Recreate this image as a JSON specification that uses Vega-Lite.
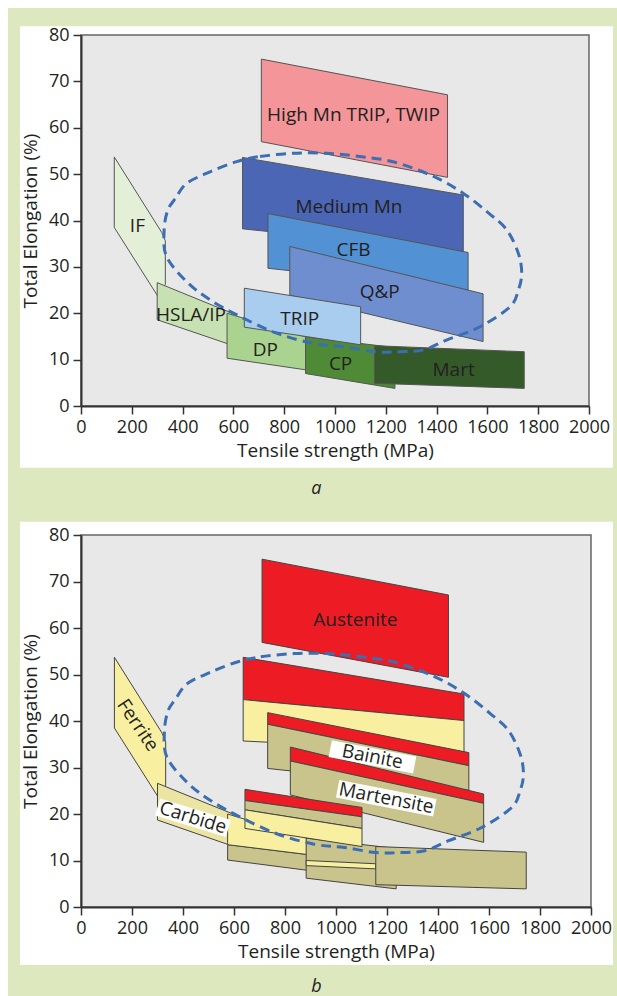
{
  "$schema": "https://vega.github.io/schema/vega-lite/v6.json",
  "background": "white",
  "padding": {"left": 8, "top": 8, "right": 0, "bottom": 0},
  "autosize": {"type": "pad"},
  "bounds": "flush",
  "spacing": 129,
  "resolve": {"scale": {"x": "independent", "y": "independent", "fill": "independent"}},
  "config": {
    "view": {"stroke": null},
    "font": "Open Sans",
    "axis": {"domainColor": "#333333", "domainWidth": 2, "tickColor": "#333333", "tickWidth": 1.5, "tickSize": 8, "labelFont": "Open Sans", "labelFontSize": 18, "labelColor": "#231f20", "labelPadding": 4, "titleFont": "Open Sans", "titleFontSize": 19, "titleFontWeight": "normal", "titleColor": "#231f20", "grid": false, "labelFlush": false, "labelOverlap": false, "format": "d"},
    "axisX": {"titlePadding": 5},
    "axisY": {"titlePadding": 8}
  },
  "datasets": {
    "one": [{"k": 1}],
    "polyA": [
      {"id": "High Mn TRIP, TWIP", "i": 0, "x": 710, "y": 74.8}, {"id": "High Mn TRIP, TWIP", "i": 1, "x": 1443, "y": 67.1}, {"id": "High Mn TRIP, TWIP", "i": 2, "x": 1443, "y": 49.3}, {"id": "High Mn TRIP, TWIP", "i": 3, "x": 710, "y": 57.0},
      {"id": "IF", "i": 0, "x": 131, "y": 53.7}, {"id": "IF", "i": 1, "x": 318, "y": 37.4}, {"id": "IF", "i": 2, "x": 332, "y": 35.6}, {"id": "IF", "i": 3, "x": 332, "y": 26.2}, {"id": "IF", "i": 4, "x": 302, "y": 23.7}, {"id": "IF", "i": 5, "x": 131, "y": 38.5},
      {"id": "HSLA/IP", "i": 0, "x": 300, "y": 26.6}, {"id": "HSLA/IP", "i": 1, "x": 600, "y": 19.9}, {"id": "HSLA/IP", "i": 2, "x": 600, "y": 13.0}, {"id": "HSLA/IP", "i": 3, "x": 300, "y": 18.6},
      {"id": "DP", "i": 0, "x": 575, "y": 20.0}, {"id": "DP", "i": 1, "x": 884, "y": 14.9}, {"id": "DP", "i": 2, "x": 884, "y": 7.8}, {"id": "DP", "i": 3, "x": 575, "y": 10.3},
      {"id": "CP", "i": 0, "x": 884, "y": 14.9}, {"id": "CP", "i": 1, "x": 1236, "y": 12.6}, {"id": "CP", "i": 2, "x": 1236, "y": 3.8}, {"id": "CP", "i": 3, "x": 884, "y": 7.0},
      {"id": "Mart", "i": 0, "x": 1156, "y": 13.0}, {"id": "Mart", "i": 1, "x": 1745, "y": 11.7}, {"id": "Mart", "i": 2, "x": 1745, "y": 3.8}, {"id": "Mart", "i": 3, "x": 1156, "y": 4.9},
      {"id": "Medium Mn", "i": 0, "x": 636, "y": 53.6}, {"id": "Medium Mn", "i": 1, "x": 1505, "y": 45.5}, {"id": "Medium Mn", "i": 2, "x": 1505, "y": 33.3}, {"id": "Medium Mn", "i": 3, "x": 636, "y": 38.2},
      {"id": "CFB", "i": 0, "x": 736, "y": 41.5}, {"id": "CFB", "i": 1, "x": 1524, "y": 33.1}, {"id": "CFB", "i": 2, "x": 1524, "y": 25.0}, {"id": "CFB", "i": 3, "x": 736, "y": 29.7},
      {"id": "Q&P", "i": 0, "x": 822, "y": 34.4}, {"id": "Q&P", "i": 1, "x": 1583, "y": 24.2}, {"id": "Q&P", "i": 2, "x": 1583, "y": 13.9}, {"id": "Q&P", "i": 3, "x": 822, "y": 23.9},
      {"id": "TRIP", "i": 0, "x": 643, "y": 25.4}, {"id": "TRIP", "i": 1, "x": 1101, "y": 21.4}, {"id": "TRIP", "i": 2, "x": 1101, "y": 13.2}, {"id": "TRIP", "i": 3, "x": 643, "y": 17.0}
    ],
    "polyB": [
      {"id": "A1", "phase": "Austenite", "i": 0, "x": 710, "y": 74.8}, {"id": "A1", "phase": "Austenite", "i": 1, "x": 1441, "y": 67.1}, {"id": "A1", "phase": "Austenite", "i": 2, "x": 1441, "y": 49.4}, {"id": "A1", "phase": "Austenite", "i": 3, "x": 710, "y": 56.9},
      {"id": "F1", "phase": "Ferrite", "i": 0, "x": 131, "y": 53.7}, {"id": "F1", "phase": "Ferrite", "i": 1, "x": 318, "y": 37.4}, {"id": "F1", "phase": "Ferrite", "i": 2, "x": 332, "y": 35.6}, {"id": "F1", "phase": "Ferrite", "i": 3, "x": 332, "y": 26.2}, {"id": "F1", "phase": "Ferrite", "i": 4, "x": 302, "y": 23.7}, {"id": "F1", "phase": "Ferrite", "i": 5, "x": 131, "y": 38.5},
      {"id": "C1", "phase": "Ferrite+Carbide", "i": 0, "x": 300, "y": 26.6}, {"id": "C1", "phase": "Ferrite+Carbide", "i": 1, "x": 605, "y": 19.8}, {"id": "C1", "phase": "Ferrite+Carbide", "i": 2, "x": 600, "y": 13.0}, {"id": "C1", "phase": "Ferrite+Carbide", "i": 3, "x": 300, "y": 18.7},
      {"id": "DPh", "phase": "Bainite/Martensite", "i": 0, "x": 575, "y": 13.4}, {"id": "DPh", "phase": "Bainite/Martensite", "i": 1, "x": 886, "y": 11.3}, {"id": "DPh", "phase": "Bainite/Martensite", "i": 2, "x": 886, "y": 7.9}, {"id": "DPh", "phase": "Bainite/Martensite", "i": 3, "x": 575, "y": 10.1},
      {"id": "DPy", "phase": "Ferrite", "i": 0, "x": 575, "y": 20.0}, {"id": "DPy", "phase": "Ferrite", "i": 1, "x": 886, "y": 14.8}, {"id": "DPy", "phase": "Ferrite", "i": 2, "x": 886, "y": 11.3}, {"id": "DPy", "phase": "Ferrite", "i": 3, "x": 575, "y": 13.4},
      {"id": "CPh", "phase": "Bainite/Martensite", "i": 0, "x": 883, "y": 14.8}, {"id": "CPh", "phase": "Bainite/Martensite", "i": 1, "x": 1236, "y": 12.6}, {"id": "CPh", "phase": "Bainite/Martensite", "i": 2, "x": 1236, "y": 3.9}, {"id": "CPh", "phase": "Bainite/Martensite", "i": 3, "x": 883, "y": 6.2},
      {"id": "CPy", "phase": "Ferrite", "i": 0, "x": 883, "y": 10.0}, {"id": "CPy", "phase": "Ferrite", "i": 1, "x": 1156, "y": 9.3}, {"id": "CPy", "phase": "Ferrite", "i": 2, "x": 1156, "y": 8.2}, {"id": "CPy", "phase": "Ferrite", "i": 3, "x": 883, "y": 8.9},
      {"id": "Marth", "phase": "Bainite/Martensite", "i": 0, "x": 1156, "y": 13.0}, {"id": "Marth", "phase": "Bainite/Martensite", "i": 1, "x": 1746, "y": 11.8}, {"id": "Marth", "phase": "Bainite/Martensite", "i": 2, "x": 1746, "y": 3.9}, {"id": "Marth", "phase": "Bainite/Martensite", "i": 3, "x": 1156, "y": 4.8},
      {"id": "MMr", "phase": "Austenite", "i": 0, "x": 636, "y": 53.7}, {"id": "MMr", "phase": "Austenite", "i": 1, "x": 1502, "y": 45.8}, {"id": "MMr", "phase": "Austenite", "i": 2, "x": 1502, "y": 40.1}, {"id": "MMr", "phase": "Austenite", "i": 3, "x": 636, "y": 44.6},
      {"id": "MMy", "phase": "Ferrite", "i": 0, "x": 636, "y": 44.6}, {"id": "MMy", "phase": "Ferrite", "i": 1, "x": 1502, "y": 40.1}, {"id": "MMy", "phase": "Ferrite", "i": 2, "x": 1502, "y": 33.4}, {"id": "MMy", "phase": "Ferrite", "i": 3, "x": 636, "y": 35.7},
      {"id": "CFBr", "phase": "Austenite", "i": 0, "x": 732, "y": 41.8}, {"id": "CFBr", "phase": "Austenite", "i": 1, "x": 1521, "y": 33.2}, {"id": "CFBr", "phase": "Austenite", "i": 2, "x": 1521, "y": 30.4}, {"id": "CFBr", "phase": "Austenite", "i": 3, "x": 732, "y": 39.3},
      {"id": "CFBh", "phase": "Bainite/Martensite", "i": 0, "x": 732, "y": 39.3}, {"id": "CFBh", "phase": "Bainite/Martensite", "i": 1, "x": 1521, "y": 30.4}, {"id": "CFBh", "phase": "Bainite/Martensite", "i": 2, "x": 1521, "y": 25.1}, {"id": "CFBh", "phase": "Bainite/Martensite", "i": 3, "x": 732, "y": 29.8},
      {"id": "QPr", "phase": "Austenite", "i": 0, "x": 821, "y": 34.4}, {"id": "QPr", "phase": "Austenite", "i": 1, "x": 1579, "y": 24.3}, {"id": "QPr", "phase": "Austenite", "i": 2, "x": 1579, "y": 22.3}, {"id": "QPr", "phase": "Austenite", "i": 3, "x": 821, "y": 31.4},
      {"id": "QPh", "phase": "Bainite/Martensite", "i": 0, "x": 821, "y": 31.4}, {"id": "QPh", "phase": "Bainite/Martensite", "i": 1, "x": 1579, "y": 22.3}, {"id": "QPh", "phase": "Bainite/Martensite", "i": 2, "x": 1579, "y": 13.9}, {"id": "QPh", "phase": "Bainite/Martensite", "i": 3, "x": 821, "y": 24.1},
      {"id": "TRr", "phase": "Austenite", "i": 0, "x": 643, "y": 25.3}, {"id": "TRr", "phase": "Austenite", "i": 1, "x": 1102, "y": 21.4}, {"id": "TRr", "phase": "Austenite", "i": 2, "x": 1102, "y": 19.4}, {"id": "TRr", "phase": "Austenite", "i": 3, "x": 643, "y": 22.9},
      {"id": "TRh", "phase": "Bainite/Martensite", "i": 0, "x": 643, "y": 22.9}, {"id": "TRh", "phase": "Bainite/Martensite", "i": 1, "x": 1102, "y": 19.4}, {"id": "TRh", "phase": "Bainite/Martensite", "i": 2, "x": 1102, "y": 16.9}, {"id": "TRh", "phase": "Bainite/Martensite", "i": 3, "x": 643, "y": 20.9},
      {"id": "TRy", "phase": "Ferrite", "i": 0, "x": 643, "y": 20.9}, {"id": "TRy", "phase": "Ferrite", "i": 1, "x": 1102, "y": 16.9}, {"id": "TRy", "phase": "Ferrite", "i": 2, "x": 1102, "y": 13.0}, {"id": "TRy", "phase": "Ferrite", "i": 3, "x": 643, "y": 16.9}
    ],
    "ellipse": [
      {"i": 0, "x": 613, "y": 52.7}, {"i": 1, "x": 705, "y": 53.8}, {"i": 2, "x": 836, "y": 54.5}, {"i": 3, "x": 967, "y": 54.5}, {"i": 4, "x": 1098, "y": 53.8}, {"i": 5, "x": 1233, "y": 52.6}, {"i": 6, "x": 1388, "y": 49.5}, {"i": 7, "x": 1504, "y": 45.9}, {"i": 8, "x": 1605, "y": 41.6}, {"i": 9, "x": 1676, "y": 38.0}, {"i": 10, "x": 1722, "y": 32.9}, {"i": 11, "x": 1735, "y": 28.6}, {"i": 12, "x": 1722, "y": 25.0}, {"i": 13, "x": 1689, "y": 21.4}, {"i": 14, "x": 1571, "y": 17.1}, {"i": 15, "x": 1439, "y": 14.2}, {"i": 16, "x": 1348, "y": 12.1}, {"i": 17, "x": 1256, "y": 11.7}, {"i": 18, "x": 1157, "y": 11.7}, {"i": 19, "x": 1033, "y": 12.8}, {"i": 20, "x": 915, "y": 13.5}, {"i": 21, "x": 770, "y": 15.7}, {"i": 22, "x": 626, "y": 19.3}, {"i": 23, "x": 508, "y": 22.9}, {"i": 24, "x": 416, "y": 26.8}, {"i": 25, "x": 337, "y": 32.2}, {"i": 26, "x": 327, "y": 37.5}, {"i": 27, "x": 340, "y": 42.0}, {"i": 28, "x": 372, "y": 44.8}, {"i": 29, "x": 416, "y": 48.0}, {"i": 30, "x": 508, "y": 50.5}
    ],
    "labelsA": [
      {"label": "High Mn TRIP, TWIP", "x": 1073, "y": 62.7}, {"label": "Medium Mn", "x": 1055, "y": 43.0}, {"label": "CFB", "x": 1073, "y": 33.6}, {"label": "Q&P", "x": 1176, "y": 24.5}, {"label": "TRIP", "x": 861, "y": 18.8}, {"label": "IF", "x": 222, "y": 38.9}, {"label": "HSLA/IP", "x": 433, "y": 19.7}, {"label": "DP", "x": 726, "y": 12.1}, {"label": "CP", "x": 1022, "y": 9.1}, {"label": "Mart", "x": 1467, "y": 7.8}
    ]
  },
  "vconcat": [
    {
      "width": 508,
      "height": 371,
      "layer": [
        {"data": {"name": "one"}, "mark": {"type": "rect", "fill": "#dde8bf"}, "encoding": {"x": {"datum": -287.4, "type": "quantitative", "scale": {"domain": [0, 2000], "nice": false, "zero": false}}, "x2": {"datum": 2110.2}, "y": {"datum": 85.8, "type": "quantitative", "scale": {"domain": [0, 80], "nice": false, "zero": false}}, "y2": {"datum": -127.2}}},
        {"data": {"name": "one"}, "mark": {"type": "rect", "fill": "#ffffff"}, "encoding": {"x": {"datum": -240.2, "type": "quantitative"}, "x2": {"datum": 2094.5}, "y": {"datum": 81.9, "type": "quantitative"}, "y2": {"datum": -13.3}}},
        {"data": {"name": "one"}, "mark": {"type": "rect", "fill": "#e8e8e8", "stroke": "#666666", "strokeWidth": 1.5}, "encoding": {
          "x": {"datum": 0, "type": "quantitative", "axis": {"title": "Tensile strength (MPa)", "values": [0, 100, 200, 300, 400, 500, 600, 700, 800, 900, 1000, 1100, 1200, 1300, 1400, 1500, 1600, 1700, 1800, 1900, 2000], "format": "d", "labelExpr": "datum.value % 200 === 0 ? datum.label : ''", "zindex": 1}},
          "x2": {"datum": 2000},
          "y": {"datum": 0, "type": "quantitative", "axis": {"title": "Total Elongation (%)", "values": [0, 10, 20, 30, 40, 50, 60, 70, 80], "format": "d", "zindex": 1}},
          "y2": {"datum": 80}}},
        {"data": {"name": "polyA"}, "mark": {"type": "line", "interpolate": "linear-closed", "stroke": "#555555", "strokeWidth": 1}, "encoding": {
          "x": {"field": "x", "type": "quantitative"},
          "y": {"field": "y", "type": "quantitative"},
          "order": {"field": "i", "type": "quantitative"},
          "detail": {"field": "id"},
          "fill": {"field": "id", "type": "nominal", "legend": null, "scale": {"domain": ["High Mn TRIP, TWIP", "IF", "HSLA/IP", "DP", "CP", "Mart", "Medium Mn", "CFB", "Q&P", "TRIP"], "range": ["#f4959a", "#e4efd8", "#c7e1b2", "#a9d38e", "#4f8a36", "#355a2a", "#4a66b4", "#5191d4", "#6f8ecf", "#a9cdef"]}}}},
        {"data": {"name": "ellipse"}, "mark": {"type": "line", "interpolate": "cardinal-closed", "stroke": "#3c6eb4", "strokeWidth": 3, "strokeDash": [10, 6]}, "encoding": {
          "x": {"field": "x", "type": "quantitative"},
          "y": {"field": "y", "type": "quantitative"},
          "order": {"field": "i", "type": "quantitative"}}},
        {"data": {"name": "labelsA"}, "mark": {"type": "text", "font": "Open Sans", "fontSize": 19, "color": "#231f20", "align": "center", "baseline": "middle"}, "encoding": {
          "x": {"field": "x", "type": "quantitative"},
          "y": {"field": "y", "type": "quantitative"},
          "text": {"field": "label"}}},
        {"data": {"name": "one"}, "mark": {"type": "text", "font": "Open Sans", "fontSize": 18, "fontStyle": "italic", "color": "#231f20", "align": "center", "baseline": "middle", "text": "a"}, "encoding": {
          "x": {"datum": 927, "type": "quantitative"},
          "y": {"datum": -18.0, "type": "quantitative"}}}
      ]
    },
    {
      "width": 510,
      "height": 372,
      "layer": [
        {"data": {"name": "one"}, "mark": {"type": "rect", "fill": "#ffffff"}, "encoding": {"x": {"datum": -239.2, "type": "quantitative", "scale": {"domain": [0, 2000], "nice": false, "zero": false}}, "x2": {"datum": 2086.3}, "y": {"datum": 82.86, "type": "quantitative", "scale": {"domain": [0, 80], "nice": false, "zero": false}}, "y2": {"datum": -12.47}}},
        {"data": {"name": "one"}, "mark": {"type": "rect", "fill": "#e8e8e8", "stroke": "#666666", "strokeWidth": 1.5}, "encoding": {
          "x": {"datum": 0, "type": "quantitative", "axis": {"title": "Tensile strength (MPa)", "values": [0, 100, 200, 300, 400, 500, 600, 700, 800, 900, 1000, 1100, 1200, 1300, 1400, 1500, 1600, 1700, 1800, 1900, 2000], "format": "d", "labelExpr": "datum.value % 200 === 0 ? datum.label : ''", "zindex": 1}},
          "x2": {"datum": 2000},
          "y": {"datum": 0, "type": "quantitative", "axis": {"title": "Total Elongation (%)", "values": [0, 10, 20, 30, 40, 50, 60, 70, 80], "format": "d", "zindex": 1}},
          "y2": {"datum": 80}}},
        {"data": {"name": "polyB"}, "mark": {"type": "line", "interpolate": "linear-closed", "stroke": "#444444", "strokeWidth": 1}, "encoding": {
          "x": {"field": "x", "type": "quantitative"},
          "y": {"field": "y", "type": "quantitative"},
          "order": {"field": "i", "type": "quantitative"},
          "detail": {"field": "id"},
          "fill": {"field": "phase", "type": "nominal", "legend": null, "scale": {"domain": ["Austenite", "Ferrite", "Ferrite+Carbide", "Bainite/Martensite"], "range": ["#ed1c24", "#f8f0a0", "#ebe4a2", "#c9c38c"]}}}},
        {"data": {"name": "ellipse"}, "mark": {"type": "line", "interpolate": "cardinal-closed", "stroke": "#3c6eb4", "strokeWidth": 3, "strokeDash": [10, 6]}, "encoding": {
          "x": {"field": "x", "type": "quantitative"},
          "y": {"field": "y", "type": "quantitative"},
          "order": {"field": "i", "type": "quantitative"}}},
        {"data": {"values": [{"label": "Bainite", "x": 1143, "y": 32.3}]}, "mark": {"type": "point", "shape": "M-1,-0.2L1,-0.2L1,0.2L-1,0.2Z", "size": 7396, "angle": 11, "filled": true, "fill": "#ffffff", "opacity": 1, "strokeWidth": 0}, "encoding": {
          "x": {"field": "x", "type": "quantitative"},
          "y": {"field": "y", "type": "quantitative"}}},
        {"data": {"values": [{"label": "Martensite", "x": 1197, "y": 23.4}]}, "mark": {"type": "point", "shape": "M-1,-0.18L1,-0.18L1,0.18L-1,0.18Z", "size": 9801, "angle": 11, "filled": true, "fill": "#ffffff", "opacity": 1, "strokeWidth": 0}, "encoding": {
          "x": {"field": "x", "type": "quantitative"},
          "y": {"field": "y", "type": "quantitative"}}},
        {"data": {"values": [{"label": "Carbide", "x": 439, "y": 19.2}]}, "mark": {"type": "point", "shape": "M-1,-0.24L1,-0.24L1,0.24L-1,0.24Z", "size": 5476, "angle": 17, "filled": true, "fill": "#ffffff", "opacity": 1, "strokeWidth": 0}, "encoding": {
          "x": {"field": "x", "type": "quantitative"},
          "y": {"field": "y", "type": "quantitative"}}},
        {"data": {"values": [{"label": "Austenite", "x": 1076, "y": 61.8}]}, "mark": {"type": "text", "font": "Open Sans", "fontSize": 19, "color": "#231f20", "align": "center", "baseline": "middle"}, "encoding": {
          "x": {"field": "x", "type": "quantitative"},
          "y": {"field": "y", "type": "quantitative"},
          "text": {"field": "label"}}},
        {"data": {"values": [{"label": "Ferrite", "x": 223, "y": 39.1}]}, "mark": {"type": "text", "font": "Open Sans", "fontSize": 19, "color": "#231f20", "align": "center", "baseline": "middle", "angle": 56}, "encoding": {
          "x": {"field": "x", "type": "quantitative"},
          "y": {"field": "y", "type": "quantitative"},
          "text": {"field": "label"}}},
        {"data": {"values": [{"label": "Carbide", "x": 439, "y": 19.2}]}, "mark": {"type": "text", "font": "Open Sans", "fontSize": 19, "color": "#231f20", "align": "center", "baseline": "middle", "angle": 17}, "encoding": {
          "x": {"field": "x", "type": "quantitative"},
          "y": {"field": "y", "type": "quantitative"},
          "text": {"field": "label"}}},
        {"data": {"values": [{"label": "Bainite", "x": 1143, "y": 32.3}, {"label": "Martensite", "x": 1197, "y": 23.4}]}, "mark": {"type": "text", "font": "Open Sans", "fontSize": 19, "color": "#231f20", "align": "center", "baseline": "middle", "angle": 11}, "encoding": {
          "x": {"field": "x", "type": "quantitative"},
          "y": {"field": "y", "type": "quantitative"},
          "text": {"field": "label"}}},
        {"data": {"name": "one"}, "mark": {"type": "text", "font": "Open Sans", "fontSize": 18, "fontStyle": "italic", "color": "#231f20", "align": "center", "baseline": "middle", "text": "b"}, "encoding": {
          "x": {"datum": 923, "type": "quantitative"},
          "y": {"datum": -17.2, "type": "quantitative"}}}
      ]
    }
  ]
}
